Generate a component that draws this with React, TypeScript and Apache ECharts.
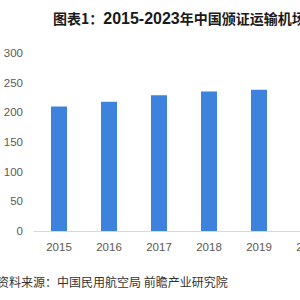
import React, { useEffect, useRef } from "react";
import * as echarts from "echarts";

const categories = ["2015", "2016", "2017", "2018", "2019", "2020", "2021", "2022", "2023"];
const airports = [210, 218, 229, 235, 238, 241, 248, 254, 259];
const yTicks = { min: 0, max: 300, interval: 50 };
const titleHead = "图表1：";
const titleYears = "2015-2023";
const titleTail = "年中国颁证运输机场数量（单位：个）";
const sourceText = "资料来源：中国民用航空局 前瞻产业研究院";

export default function App() {
  const ref = useRef<HTMLDivElement>(null);
  useEffect(() => {
    if (!ref.current) return;
    const chart = echarts.init(ref.current, undefined, { renderer: "svg" });
    chart.setOption({
      animation: false,
      backgroundColor: "#ffffff",
      grid: { left: 34, right: 36, top: 53, bottom: 69, containLabel: false },
      xAxis: {
        type: "category",
        data: categories,
        axisLine: { lineStyle: { color: "#d9d9d9" } },
        axisTick: { show: false },
        axisLabel: { color: "#595959", fontSize: 11.5, margin: 10, fontFamily: "Liberation Sans" },
      },
      yAxis: {
        type: "value",
        min: yTicks.min,
        max: yTicks.max,
        interval: yTicks.interval,
        splitLine: { show: false },
        axisLine: { show: false },
        axisTick: { show: false },
        axisLabel: { color: "#595959", fontSize: 11.5, margin: 11, fontFamily: "Liberation Sans" },
      },
      series: [
        {
          type: "bar",
          data: airports,
          barWidth: 16,
          itemStyle: { color: "#3D82DD" },
        },
      ],
      graphic: [
        {
          type: "text",
          left: 53,
          top: 10,
          style: {
            text: `{a|${titleHead}}{b|${titleYears}}{a|${titleTail}}`,
            rich: {
              a: { font: "bold 14px 'Noto Sans CJK SC'", fill: "#1a1a1a" },
              b: { font: "bold 16px 'Liberation Sans'", fill: "#1a1a1a" },
            },
          },
        },
        {
          type: "text",
          left: -3,
          top: 275,
          style: {
            text: sourceText,
            font: "12px 'Noto Sans CJK SC'",
            fill: "#333333",
          },
        },
      ],
    });
    return () => chart.dispose();
  }, []);
  return (
    <div
      ref={ref}
      style={{ position: "fixed", left: 0, top: 0, width: 520, height: 300 }}
    />
  );
}
